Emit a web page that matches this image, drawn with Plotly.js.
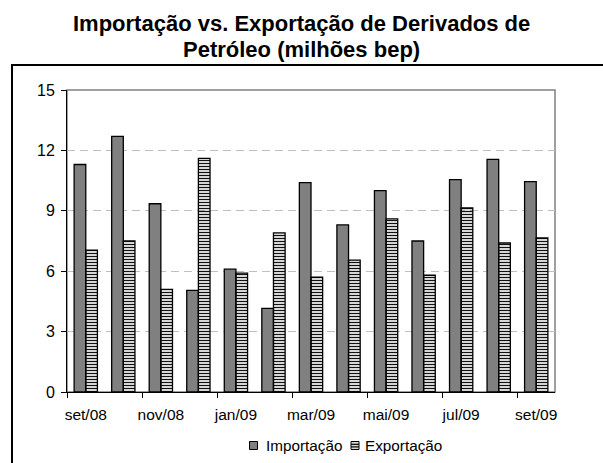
<!DOCTYPE html>
<html>
<head>
<meta charset="utf-8">
<script src="https://cdn.plot.ly/plotly-3.0.1.min.js"></script>
<style>
  html, body { margin: 0; padding: 0; background: #fff; }
  #wrap { position: relative; width: 603px; height: 463px; overflow: hidden; }
  #chart { position: absolute; left: 0; top: 0; width: 603px; height: 463px; }
  #frame { position: absolute; left: 11px; top: 64px; width: 600px; height: 420px;
           border-left: 2px solid #000; border-top: 2px solid #000; pointer-events: none; }
</style>
</head>
<body>
<div id="wrap">
  <div id="chart"></div>
  <div id="frame"></div>
</div>
<script>
// Data (milhões bep)
const months = ["set/08","out/08","nov/08","dez/08","jan/09","fev/09","mar/09","abr/09","mai/09","jun/09","jul/09","ago/09","set/09"];
const importacao = [11.3, 12.7, 9.35, 5.05, 6.1, 4.15, 10.4, 8.3, 10.0, 7.5, 10.55, 11.55, 10.45];
const exportacao = [7.05, 7.5, 5.1, 11.6, 5.9, 7.9, 5.7, 6.55, 8.6, 5.8, 9.15, 7.4, 7.65];
const yTicks = [0, 3, 6, 9, 12, 15];
const seriesNames = ["Importação", "Exportação"];
const titleLines = ["Importação vs. Exportação de Derivados de", "Petróleo (milhões bep)"];

const idx = months.map((m, i) => i);
const labelIdx = idx.filter(i => i % 2 === 0);
const labelText = labelIdx.map(i => months[i]);
const boundaryIdx = labelIdx.map(i => i - 0.5);

const font = "Liberation Sans, Arial, sans-serif";

// plot area geometry (pixels)
const W = 603, H = 463, ML = 67, MR = 48, MT = 90, MB = 71;
const PW = W - ML - MR, PH = H - MT - MB;
const px = x => (x - ML) / PW;            // page x -> paper x
const py = y => (H - MB - y) / PH;        // page y -> paper y

const traces = [
  {
    type: "bar", name: seriesNames[0], x: idx, y: importacao,
    marker: { color: "#808080", line: { color: "#000", width: 1.3 } },
    hoverinfo: "skip", showlegend: false
  },
  {
    type: "bar", name: seriesNames[1], x: idx, y: exportacao,
    marker: {
      color: "#e6e6e6",
      line: { color: "#000", width: 1.3 },
      pattern: { shape: "-", fgcolor: "#111", size: 3, solidity: 0.45 }
    },
    hoverinfo: "skip", showlegend: false
  }
];

// custom legend (symbols + labels)
const legShapes = [
  { type: "rect", xref: "paper", yref: "paper", x0: px(249.5), x1: px(257.5), y0: py(449.5), y1: py(441.5),
    fillcolor: "#808080", line: { color: "#000", width: 1 } },
  { type: "rect", xref: "paper", yref: "paper", x0: px(351), x1: px(359), y0: py(449.5), y1: py(441.5),
    fillcolor: "#d8d8d8", line: { color: "#000", width: 1 } },
  { type: "line", xref: "paper", yref: "paper", x0: px(351), x1: px(359), y0: py(444.3), y1: py(444.3),
    line: { color: "#000", width: 1.2 } },
  { type: "line", xref: "paper", yref: "paper", x0: px(351), x1: px(359), y0: py(446.9), y1: py(446.9),
    line: { color: "#000", width: 1.2 } }
];

const layout = {
  width: W, height: H,
  margin: { l: ML, r: MR, t: MT, b: MB },
  paper_bgcolor: "#fff", plot_bgcolor: "#fff",
  font: { family: font, color: "#000", size: 15.5 },
  barmode: "group",
  bargap: 0.38,
  bargroupgap: 0,
  xaxis: {
    type: "linear",
    range: [-0.5, 12.5],
    tickvals: labelIdx, ticktext: labelText,
    ticks: "", showgrid: false, zeroline: false,
    showline: true, linecolor: "#000", linewidth: 1,
    ticklabelstandoff: 8,
    tickfont: { size: 15.5 },
    minor: { tickvals: boundaryIdx, ticks: "outside", ticklen: 5, tickcolor: "#000", tickwidth: 1, showgrid: false }
  },
  yaxis: {
    range: [0, 15], tickvals: yTicks,
    ticks: "outside", ticklen: 5, tickcolor: "#000", tickwidth: 1,
    showline: true, linecolor: "#000", linewidth: 1,
    showgrid: true, gridcolor: "#c0c0c0", griddash: "8px,5px", gridwidth: 1,
    zeroline: false,
    ticklabelstandoff: 3,
    tickfont: { size: 16 }
  },
  shapes: [
    { type: "rect", xref: "paper", yref: "paper", x0: 0, x1: 1, y0: 0, y1: 1,
      line: { color: "#808080", width: 1.5 }, layer: "below" }
  ].concat(legShapes),
  annotations: [
    { text: "<b>" + titleLines[0] + "</b>", xref: "paper", yref: "paper", x: px(301.5), y: py(23.5),
      xanchor: "center", yanchor: "middle", showarrow: false, font: { size: 22, family: font, color: "#000" } },
    { text: "<b>" + titleLines[1] + "</b>", xref: "paper", yref: "paper", x: px(301.5), y: py(49),
      xanchor: "center", yanchor: "middle", showarrow: false, font: { size: 22, family: font, color: "#000" } },
    { text: seriesNames[0], xref: "paper", yref: "paper", x: px(264), y: py(445.5),
      xanchor: "left", yanchor: "middle", showarrow: false, font: { size: 15.3, family: font, color: "#000" } },
    { text: seriesNames[1], xref: "paper", yref: "paper", x: px(363), y: py(445.5),
      xanchor: "left", yanchor: "middle", showarrow: false, font: { size: 15.3, family: font, color: "#000" } }
  ],
  showlegend: false
};

Plotly.newPlot("chart", traces, layout, { displayModeBar: false, staticPlot: true });
</script>
</body>
</html>
